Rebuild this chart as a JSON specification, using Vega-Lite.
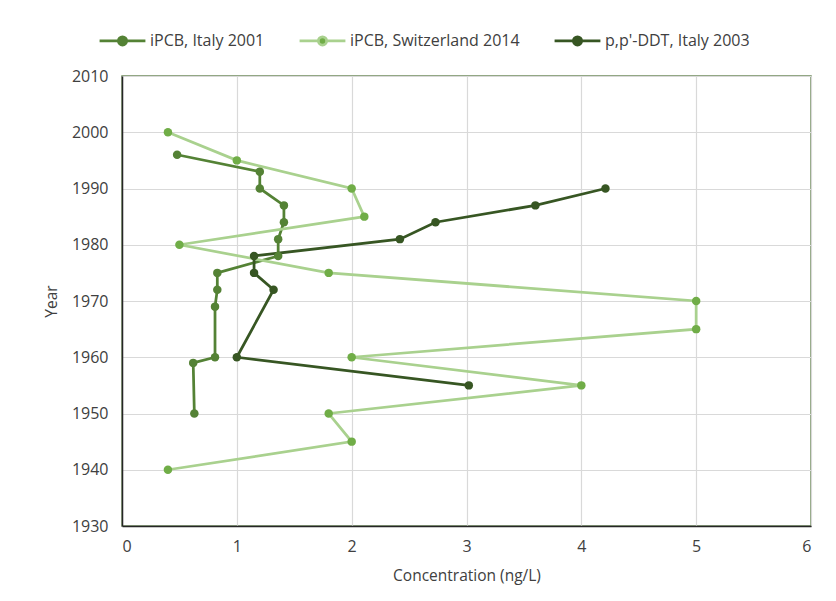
{
  "$schema": "https://vega.github.io/schema/vega-lite/v6.json",
  "width": 689,
  "height": 450,
  "autosize": {"type": "none"},
  "padding": {"left": 122, "top": 76, "right": 25, "bottom": 75},
  "background": "white",
  "data": {
    "values": [
      {"series": "iPCB, Italy 2001", "order": 1, "conc": 0.48, "year": 1996},
      {"series": "iPCB, Italy 2001", "order": 2, "conc": 1.2, "year": 1993},
      {"series": "iPCB, Italy 2001", "order": 3, "conc": 1.2, "year": 1990},
      {"series": "iPCB, Italy 2001", "order": 4, "conc": 1.41, "year": 1987},
      {"series": "iPCB, Italy 2001", "order": 5, "conc": 1.41, "year": 1984},
      {"series": "iPCB, Italy 2001", "order": 6, "conc": 1.36, "year": 1981},
      {"series": "iPCB, Italy 2001", "order": 7, "conc": 1.36, "year": 1978},
      {"series": "iPCB, Italy 2001", "order": 8, "conc": 0.83, "year": 1975},
      {"series": "iPCB, Italy 2001", "order": 9, "conc": 0.83, "year": 1972},
      {"series": "iPCB, Italy 2001", "order": 10, "conc": 0.81, "year": 1969},
      {"series": "iPCB, Italy 2001", "order": 11, "conc": 0.81, "year": 1960},
      {"series": "iPCB, Italy 2001", "order": 12, "conc": 0.62, "year": 1959},
      {"series": "iPCB, Italy 2001", "order": 13, "conc": 0.63, "year": 1950},
      {"series": "iPCB, Switzerland 2014", "order": 1, "conc": 0.4, "year": 2000},
      {"series": "iPCB, Switzerland 2014", "order": 2, "conc": 1.0, "year": 1995},
      {"series": "iPCB, Switzerland 2014", "order": 3, "conc": 2.0, "year": 1990},
      {"series": "iPCB, Switzerland 2014", "order": 4, "conc": 2.11, "year": 1985},
      {"series": "iPCB, Switzerland 2014", "order": 5, "conc": 0.5, "year": 1980},
      {"series": "iPCB, Switzerland 2014", "order": 6, "conc": 1.8, "year": 1975},
      {"series": "iPCB, Switzerland 2014", "order": 7, "conc": 5.0, "year": 1970},
      {"series": "iPCB, Switzerland 2014", "order": 8, "conc": 5.0, "year": 1965},
      {"series": "iPCB, Switzerland 2014", "order": 9, "conc": 2.0, "year": 1960},
      {"series": "iPCB, Switzerland 2014", "order": 10, "conc": 4.0, "year": 1955},
      {"series": "iPCB, Switzerland 2014", "order": 11, "conc": 1.8, "year": 1950},
      {"series": "iPCB, Switzerland 2014", "order": 12, "conc": 2.0, "year": 1945},
      {"series": "iPCB, Switzerland 2014", "order": 13, "conc": 0.4, "year": 1940},
      {"series": "p,p'-DDT, Italy 2003", "order": 1, "conc": 4.21, "year": 1990},
      {"series": "p,p'-DDT, Italy 2003", "order": 2, "conc": 3.6, "year": 1987},
      {"series": "p,p'-DDT, Italy 2003", "order": 3, "conc": 2.73, "year": 1984},
      {"series": "p,p'-DDT, Italy 2003", "order": 4, "conc": 2.42, "year": 1981},
      {"series": "p,p'-DDT, Italy 2003", "order": 5, "conc": 1.15, "year": 1978},
      {"series": "p,p'-DDT, Italy 2003", "order": 6, "conc": 1.15, "year": 1975},
      {"series": "p,p'-DDT, Italy 2003", "order": 7, "conc": 1.32, "year": 1972},
      {"series": "p,p'-DDT, Italy 2003", "order": 8, "conc": 1.0, "year": 1960},
      {"series": "p,p'-DDT, Italy 2003", "order": 9, "conc": 3.02, "year": 1955}
    ]
  },
  "encoding": {
    "x": {
      "field": "conc",
      "type": "quantitative",
      "scale": {"domain": [0, 6], "nice": false, "zero": false},
      "axis": {"values": [0, 1, 2, 3, 4, 5, 6], "title": "Concentration (ng/L)", "titlePadding": 14}
    },
    "y": {
      "field": "year",
      "type": "quantitative",
      "scale": {"domain": [1930, 2010], "nice": false, "zero": false},
      "axis": {"values": [1930, 1940, 1950, 1960, 1970, 1980, 1990, 2000, 2010], "format": "d", "title": "Year", "titlePadding": 12, "labelPadding": 14}
    }
  },
  "layer": [
    {
      "mark": {"type": "line", "strokeWidth": 2.75},
      "encoding": {
        "order": {"field": "order", "type": "quantitative"},
        "color": {
          "field": "series",
          "type": "nominal",
          "scale": {
            "domain": ["iPCB, Italy 2001", "iPCB, Switzerland 2014", "p,p'-DDT, Italy 2003"],
            "range": ["#548235", "#A9D18E", "#375623"]
          },
          "legend": {
            "orient": "none",
            "legendX": -24,
            "legendY": -60,
            "direction": "horizontal",
            "title": null,
            "symbolType": "M-1,0L-0.2,0M0.2,0L1,0M-0.18,0A0.18,0.18 0 1,1 0.18,0A0.18,0.18 0 1,1 -0.18,0Z",
            "symbolSize": 2100,
            "symbolStrokeWidth": 2.75,
            "labelFont": "Open Sans",
            "labelFontSize": 16,
            "labelLimit": 400,
            "labelColor": "#404040",
            "labelOffset": 3,
            "columnPadding": 29,
            "encode": {
              "symbols": {
                "update": {
                  "fill": {"scale": "fill", "field": "value"},
                  "fillOpacity": {"value": 1},
                  "opacity": {"value": 1}
                }
              }
            }
          }
        }
      }
    },
    {
      "mark": {"type": "point", "filled": true, "size": 72, "opacity": 1},
      "encoding": {
        "fill": {
          "field": "series",
          "type": "nominal",
          "scale": {
            "domain": ["iPCB, Italy 2001", "iPCB, Switzerland 2014", "p,p'-DDT, Italy 2003"],
            "range": ["#548235", "#70AD47", "#375623"]
          },
          "legend": null
        }
      }
    }
  ],
  "config": {
    "view": {"stroke": "#6f8a5c", "strokeWidth": 1.5},
    "axis": {
      "grid": true,
      "gridColor": "#d9d9d9",
      "gridWidth": 1.2,
      "ticks": false,
      "domainColor": "#262626",
      "domainWidth": 1.5,
      "labelFont": "Open Sans",
      "labelFontSize": 16,
      "labelColor": "#404040",
      "labelPadding": 12,
      "titleFont": "Open Sans",
      "titleFontSize": 15.5,
      "titleFontWeight": "normal",
      "titleColor": "#404040"
    }
  }
}
